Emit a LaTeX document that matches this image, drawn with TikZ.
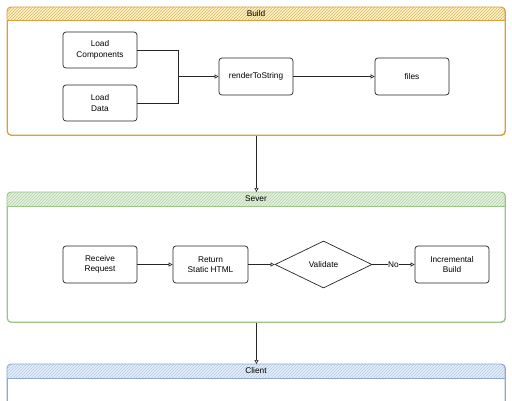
\documentclass[tikz,border=0pt]{standalone}
\usepackage{fontspec}
\setmainfont{Liberation Sans}
\usetikzlibrary{shapes.geometric,arrows.meta,patterns}
\definecolor{buildline}{HTML}{D8A040}
\definecolor{buildfill}{HTML}{FFF2CC}
\definecolor{buildhatch}{HTML}{D6B656}
\definecolor{severline}{HTML}{9CC487}
\definecolor{severfill}{HTML}{E3F0E1}
\definecolor{severhatch}{HTML}{B5D6A6}
\definecolor{clientline}{HTML}{8FA9CF}
\definecolor{clientfill}{HTML}{E6EFFC}
\definecolor{clienthatch}{HTML}{B4C9E6}
\tikzset{
  container/.style={draw=#1, line width=0.9pt, rounded corners=4pt, fill=white, anchor=north west},
  stepbox/.style={draw=black!85, line width=0.7pt, rounded corners=3pt, fill=white, minimum width=74pt, minimum height=37pt, align=center, font=\fontsize{8.3}{10.5}\selectfont, inner sep=1pt},
  decision/.style={draw=black!85, line width=0.7pt, diamond, fill=white, minimum width=97pt, minimum height=47pt, inner sep=0pt, font=\fontsize{8.3}{10.5}\selectfont},
  flow/.style={draw=black!85, line width=0.6pt, -{Triangle[open,length=4pt,width=4pt]}},
  plainflow/.style={draw=black!85, line width=0.6pt},
  title/.style={font=\fontsize{8.3}{10}\selectfont},
}
\begin{document}
\begin{tikzpicture}[x=1pt,y=-1pt]
\useasboundingbox (0,0) rectangle (512,400);
\clip (0,0) rectangle (512,400);
\fill[white] (0,0) rectangle (512,400);

% ---------- Build container ----------
\node[container=buildline, minimum width=498pt, minimum height=128pt, inner sep=0pt] (build) at (7,7) {};
\begin{scope}
  \clip[rounded corners=4pt] (7,7) rectangle (505,135);
  \fill[buildfill] (7,7) rectangle (505,20);
  \fill[pattern=north east lines, pattern color=buildhatch] (7,7) rectangle (505,20);
\end{scope}
\draw[buildline, line width=0.9pt, rounded corners=4pt] (7,7) rectangle (505,135);
\draw[buildline, line width=0.9pt] (7,20) -- (505,20);
\node[title] (buildtitle) at (256,13.5) {Build};

\node[stepbox, minimum height=36pt] (lc) at (100,50) {Load\\Components};
\node[stepbox, minimum height=36pt] (ld) at (100,103) {Load\\Data};
\node[stepbox] (rts) at (256,76.5) {renderToString};
\node[stepbox] (files) at (412,76.5) {files};
\coordinate (j) at (178,76.5);
\draw[plainflow] (lc.east) -| (j);
\draw[plainflow] (ld.east) -| (j);
\draw[flow] (j) -- (rts.west);
\draw[flow] (rts.east) -- (files.west);

% ---------- Sever container ----------
\node[container=severline, minimum width=498pt, minimum height=130pt, inner sep=0pt] (sever) at (7,192) {};
\begin{scope}
  \clip[rounded corners=4pt] (7,192) rectangle (505,322);
  \fill[severfill] (7,192) rectangle (505,206);
  \fill[pattern=north east lines, pattern color=severhatch] (7,192) rectangle (505,206);
\end{scope}
\draw[severline, line width=0.9pt, rounded corners=4pt] (7,192) rectangle (505,322);
\draw[severline, line width=0.9pt] (7,206) -- (505,206);
\node[title] (severtitle) at (256,199) {Sever};

\node[stepbox] (rr) at (100,264.5) {Receive\\Request};
\node[stepbox, minimum width=75pt] (rsh) at (210.5,264.5) {Return\\Static HTML};
\node[decision] (val) at (323.5,264.5) {Validate};
\node[stepbox] (ib) at (452,264.5) {Incremental\\Build};
\draw[flow] (rr.east) -- (rsh.west);
\draw[flow] (rsh.east) -- (val.west);
\draw[flow] (val.east) -- node[fill=white, inner sep=0.5pt, font=\fontsize{8.3}{10}\selectfont] (no) {No} (ib.west);

% ---------- Client container ----------
\node[container=clientline, minimum width=498pt, minimum height=60pt, inner sep=0pt] (client) at (7,364) {};
\begin{scope}
  \clip[rounded corners=4pt] (7,364) rectangle (505,424);
  \fill[clientfill] (7,364) rectangle (505,378);
  \fill[pattern=north east lines, pattern color=clienthatch] (7,364) rectangle (505,378);
\end{scope}
\draw[clientline, line width=0.9pt, rounded corners=4pt] (7,364) rectangle (505,424);
\draw[clientline, line width=0.9pt] (7,378) -- (505,378);
\node[title] (clienttitle) at (256,371) {Client};

% ---------- between containers ----------
\draw[flow] (build.south) -- (sever.north);
\draw[flow] (sever.south) -- (client.north);
\end{tikzpicture}
\end{document}
